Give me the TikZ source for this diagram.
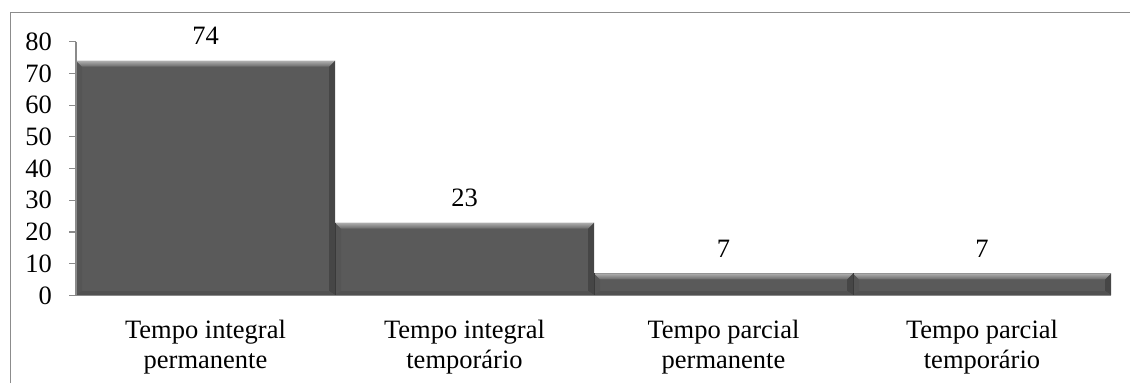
\documentclass[tikz,border=0pt]{standalone}
\usepackage{fontspec}
\setmainfont{Liberation Serif}
\definecolor{framegray}{HTML}{8C8C8C}
\definecolor{axisgray}{HTML}{8A8A8A}
\definecolor{barbody}{HTML}{5A5A5A}
\definecolor{barlight}{HTML}{B0B0B0}
\definecolor{barmid}{HTML}{686868}
\definecolor{barleft}{HTML}{555555}
\definecolor{barright}{HTML}{464646}
\definecolor{barbottom}{HTML}{515151}
\definecolor{baredge}{HTML}{3A3A3A}
\tikzset{
  lbl/.style={inner sep=0pt, text=black},
  axisline/.style={draw=axisgray, line width=1.2pt},
  frameline/.style={draw=framegray, line width=1.2pt},
}
\begin{document}
\begin{tikzpicture}[x=1pt,y=-1pt,font=\fontsize{26.5}{30}\selectfont]
\useasboundingbox (0,0) rectangle (1130,383);
% outer frame
\coordinate (fbl) at (10.5,383);
\coordinate (ftl) at (10.5,12.7);
\coordinate (ftr) at (1130,12.7);
\draw[frameline] (fbl) -- (ftl) -- (ftr);
% bars
\foreach \a/\b/\v/\n in {76/335/74/1,335/594/23/2,594/853/7/3,853/1111/7/4}{
  \pgfmathsetmacro\t{295.5-3.173*\v}
  \pgfmathsetmacro\c{(\a+\b)/2}
  \fill[barbody] (\a,\t) rectangle (\b,295);
  \fill[barleft] (\a,\t) -- (\a+6,\t+6) -- (\a+6,291) -- (\a,295) -- cycle;
  \fill[barright] (\b,\t) -- (\b-6,\t+6) -- (\b-6,291) -- (\b,295) -- cycle;
  \fill[barbottom] (\a,295) -- (\a+6,291) -- (\b-6,291) -- (\b,295) -- cycle;
  \shade[top color=barlight, bottom color=barmid] (\a,\t) -- (\b,\t) -- (\b-6,\t+6) -- (\a+6,\t+6) -- cycle;
  \draw[baredge, line width=1.2pt] (\a+0.6,\t) -- (\a+0.6,295);
  \node[lbl, anchor=base] (v\n) at (\c,\t-16) {\v};
}
% axes
\coordinate (yb) at (76,295.5);
\coordinate (yt) at (76,41.7);
\coordinate (xr) at (1111,295.5);
\draw[axisline] (yt) -- (yb) -- (xr);
\foreach \v [count=\i from 0] in {0,10,...,80}{
  \pgfmathsetmacro\yy{295.5-3.173*\v}
  \coordinate (tk\i) at (69,\yy);
  \coordinate (ta\i) at (76,\yy);
  \draw[axisline] (tk\i) -- (ta\i);
  \node[lbl, anchor=east] (t\i) at (52,\yy) {\v};
}
% category labels
\node[lbl, anchor=north, align=center] (c1) at (205.5,320) {Tempo integral\\permanente};
\node[lbl, anchor=north, align=center] (c2) at (464.5,320) {Tempo integral\\temporário};
\node[lbl, anchor=north, align=center] (c3) at (723.5,320) {Tempo parcial\\permanente};
\node[lbl, anchor=north, align=center] (c4) at (982,320) {Tempo parcial\\temporário};
\end{tikzpicture}
\end{document}
